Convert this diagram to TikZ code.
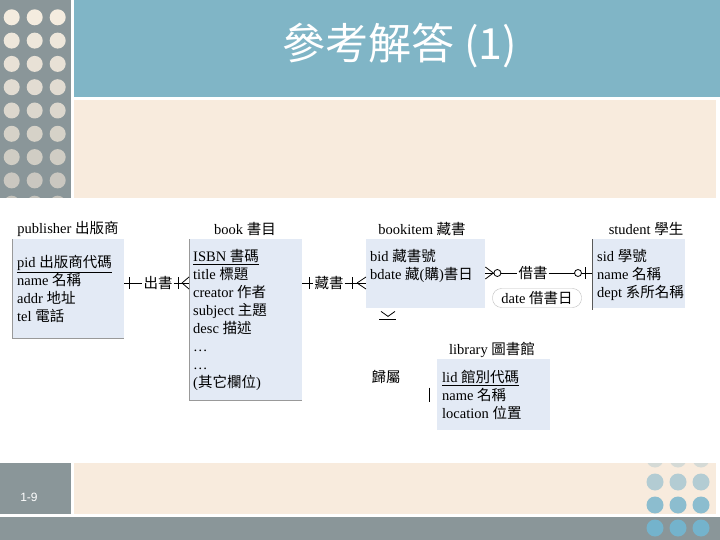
\documentclass[tikz,border=0pt]{standalone}
\usepackage{fontspec}
\setmainfont{Liberation Serif}
\newfontfamily\cjk{Noto Sans CJK TC}
\newfontfamily\slidesans{Liberation Sans}
\usepackage{tikz}
\usetikzlibrary{positioning}
\definecolor{sidegray}{HTML}{8A9699}
\definecolor{titleblue}{HTML}{80B5C6}
\definecolor{sandband}{HTML}{F8EBDD}
\definecolor{dotcream}{HTML}{F4ECDF}
\definecolor{dotstone}{HTML}{C4C2BB}
\definecolor{dotmist}{HTML}{D5DAD6}
\definecolor{dotsky}{HTML}{74B3CC}
\definecolor{boxblue}{HTML}{E3EAF5}
\colorlet{edgegray}{black!40}
\newcommand{\zh}[1]{{\cjk #1}}

\begin{document}
\begin{tikzpicture}[x=1pt, y=-1pt,
    entitybox/.style={fill=boxblue, anchor=north west, inner sep=0pt},
    attrs/.style={anchor=north west, align=left, inner sep=0pt, font=\fontsize{14.5}{18}\selectfont},
    entname/.style={inner sep=0pt, font=\fontsize{14.5}{18}\selectfont},
    relname/.style={fill=white, inner sep=1pt, font=\cjk\fontsize{14.5}{18}\selectfont},
    erline/.style={line width=0.8pt}]
  \useasboundingbox (0,0) rectangle (720,540);

  % Slide frame
  \fill[sidegray] (0,0) rectangle (71,198);
  \fill[titleblue] (74,0) rectangle (720,97);
  \fill[sandband] (74,100) rectangle (716,198);
  \fill[sidegray] (0,463) rectangle (71,514);
  \fill[sandband] (74,463) rectangle (716,514);
  \fill[sidegray] (0,517) rectangle (720,540);

  % Dots on the side bar
  \begin{scope}
    \clip (0,0) rectangle (71,198);
    \foreach \r in {0,...,8} {
      \pgfmathsetmacro{\dotmix}{\r*12.5}
      \foreach \c in {0,1,2}
        \fill[dotstone!\dotmix!dotcream] (11.7+23*\c, 17.3+23.3*\r) circle[radius=8pt];
    }
  \end{scope}

  % Dots in the bottom corner
  \begin{scope}
    \clip (74,463) rectangle (716,514) (0,517) rectangle (720,540);
    \foreach \r/\p in {0/0, 1/35, 2/75, 3/100}
      \foreach \c in {0,1,2}
        \fill[dotsky!\p!dotmist] (655+23*\c, 459+23*\r) circle[radius=8.5pt];
  \end{scope}

  \node[text=white, font=\cjk\fontsize{43}{46}\selectfont] (slidetitle) at (400,46) {參考解答 (1)};
  \node[text=white, font=\slidesans\fontsize{12}{14}\selectfont] (pageno) at (29,497) {1-9};

  % publisher
  \node[entitybox, minimum width=112pt, minimum height=99pt] (pubbox) at (12,239) {};
  \draw[edgegray] (pubbox.north west) -- (pubbox.south west) -- (pubbox.south east);
  \node[entname] (pubname) at (68,229) {publisher \zh{出版商}};
  \node[attrs] (pubattr) at (17,255) {\underline{pid \zh{出版商代碼}}\\name \zh{名稱}\\addr \zh{地址}\\tel \zh{電話}};

  % book
  \node[entitybox, minimum width=113pt, minimum height=161pt] (bookbox) at (189,239) {};
  \draw[edgegray] (bookbox.north west) -- (bookbox.south west) -- (bookbox.south east);
  \node[entname] (bookname) at (245,229) {book \zh{書目}};
  \node[attrs] (bookattr) at (193,249) {\underline{ISBN \zh{書碼}}\\title \zh{標題}\\creator \zh{作者}\\subject \zh{主題}\\desc \zh{描述}\\\ldots\\\ldots\\(\zh{其它欄位})};

  % bookitem
  \node[entitybox, minimum width=119pt, minimum height=69pt] (itembox) at (366,239) {};
  \node[entname] (itemname) at (422,229) {bookitem \zh{藏書}};
  \node[attrs] (itemattr) at (370,249) {bid \zh{藏書號}\\bdate \zh{藏}(\zh{購})\zh{書日}};

  % student
  \node[entitybox, minimum width=93pt, minimum height=69pt] (studbox) at (592,239) {};
  \draw[black!65, line width=0.8pt] (studbox.north west) -- ([yshift=-2pt]studbox.south west);
  \node[entname] (studname) at (646,229) {student \zh{學生}};
  \node[attrs] (studattr) at (597,249) {sid \zh{學號}\\name \zh{名稱}\\dept \zh{系所名稱}};

  % library
  \node[entitybox, minimum width=113pt, minimum height=71pt] (libbox) at (437,359) {};
  \node[entname] (libname) at (492,350) {library \zh{圖書館}};
  \node[attrs] (libattr) at (442,370) {\underline{lid \zh{館別代碼}}\\name \zh{名稱}\\location \zh{位置}};

  % publisher -- book
  \node[relname] (shipRel) at (158,283) {出書};
  \draw[erline] (pubbox.east |- shipRel) -- (shipRel);
  \draw[erline] (shipRel) -- (bookbox.west |- shipRel);
  \draw[erline] ([xshift=5pt]pubbox.east |- shipRel) ++(0,-6) -- ++(0,12);
  \draw[erline] ([xshift=-11pt]bookbox.west |- shipRel) ++(0,-6) -- ++(0,12);
  \draw[erline] ([xshift=-7pt]bookbox.west |- shipRel) -- ++(7,-6)
                ([xshift=-7pt]bookbox.west |- shipRel) -- ++(7,6);

  % book -- bookitem
  \node[relname] (holdRel) at (329,283) {藏書};
  \draw[erline] (bookbox.east |- holdRel) -- (holdRel);
  \draw[erline] (holdRel) -- (itembox.west |- holdRel);
  \draw[erline] ([xshift=7pt]bookbox.east |- holdRel) ++(0,-6) -- ++(0,12);
  \draw[erline] ([xshift=-14pt]itembox.west |- holdRel) ++(0,-6) -- ++(0,12);
  \draw[erline] ([xshift=-9pt]itembox.west |- holdRel) -- ++(9,-6)
                ([xshift=-9pt]itembox.west |- holdRel) -- ++(9,6);

  % bookitem -- student
  \node[relname] (loanRel) at (533,273) {借書};
  \draw[erline] (itembox.east |- loanRel) -- (loanRel);
  \draw[erline] (loanRel) -- (studbox.west |- loanRel);
  \draw[erline] ([xshift=8pt]itembox.east |- loanRel) -- ++(-8,-6)
                ([xshift=8pt]itembox.east |- loanRel) -- ++(-8,6);
  \draw[erline, fill=white] ([xshift=12pt]itembox.east |- loanRel) circle[radius=3.5pt];
  \draw[erline, fill=white] ([xshift=-14pt]studbox.west |- loanRel) circle[radius=3.5pt];
  \draw[erline] ([xshift=-7pt]studbox.west |- loanRel) ++(0,-6) -- ++(0,12);
  \node[draw=gray!50, fill=white, rounded corners=9pt, minimum width=89pt, minimum height=19pt,
        inner sep=0pt, font=\fontsize{14.5}{18}\selectfont] (loanDate) at (537,298) {date \zh{借書日}};

  % bookitem -- library
  \node[relname] (ownRel) at (386,377) {歸屬};
  \draw[erline] ([xshift=15pt,yshift=-3pt]itembox.south west) -- ++(7,5) -- ++(7,-5);
  \draw[erline] ([xshift=13pt,yshift=-11pt]itembox.south west) -- ++(17,0);
  \draw[erline] ([xshift=-8pt]libbox.west) ++(0,-7) -- ++(0,14);
\end{tikzpicture}
\end{document}
